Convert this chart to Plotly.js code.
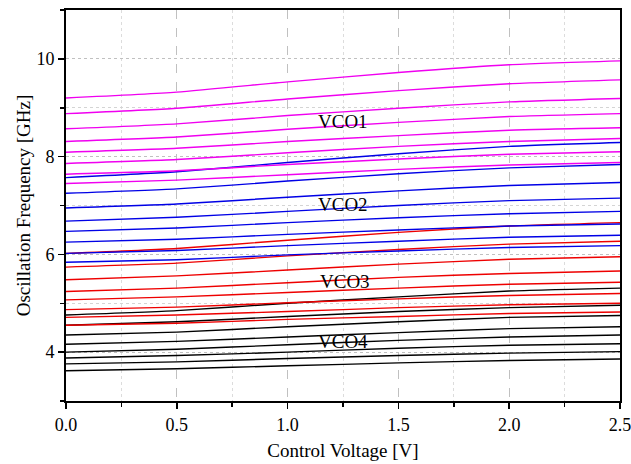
<!DOCTYPE html>
<html>
<head>
<meta charset="utf-8">
<script src="https://cdn.plot.ly/plotly-3.0.1.min.js"></script>
<style>html,body{margin:0;padding:0;background:#fff;}#chart{width:631px;height:464px;}</style>
</head>
<body>
<div id="chart"></div>
<script>
const controlVoltage = [0, 0.5, 1.0, 1.5, 2.0, 2.5];

const vco1 = [
  [9.20, 9.32, 9.53, 9.72, 9.88, 9.96],
  [8.88, 8.99, 9.18, 9.35, 9.49, 9.57],
  [8.57, 8.67, 8.84, 8.99, 9.12, 9.19],
  [8.31, 8.40, 8.56, 8.70, 8.82, 8.88],
  [8.09, 8.17, 8.31, 8.43, 8.54, 8.59],
  [7.86, 7.94, 8.08, 8.21, 8.31, 8.37],
  [7.64, 7.71, 7.84, 7.95, 8.05, 8.10],
  [7.45, 7.52, 7.63, 7.74, 7.83, 7.88]
];
const vco2 = [
  [7.57, 7.69, 7.88, 8.06, 8.21, 8.29],
  [7.25, 7.34, 7.50, 7.65, 7.77, 7.84],
  [6.95, 7.03, 7.17, 7.30, 7.41, 7.47],
  [6.68, 6.76, 6.88, 7.00, 7.10, 7.15],
  [6.47, 6.54, 6.65, 6.75, 6.83, 6.88],
  [6.25, 6.31, 6.41, 6.50, 6.58, 6.62],
  [6.02, 6.08, 6.18, 6.27, 6.35, 6.39],
  [5.84, 5.89, 5.99, 6.07, 6.14, 6.18]
];
const vco3 = [
  [6.02, 6.12, 6.29, 6.45, 6.58, 6.65],
  [5.74, 5.82, 5.97, 6.10, 6.21, 6.27],
  [5.48, 5.56, 5.68, 5.80, 5.90, 5.95],
  [5.24, 5.31, 5.42, 5.53, 5.61, 5.66],
  [5.07, 5.13, 5.22, 5.31, 5.39, 5.43],
  [4.87, 4.92, 5.01, 5.09, 5.16, 5.20],
  [4.71, 4.76, 4.83, 4.91, 4.97, 5.00],
  [4.55, 4.59, 4.67, 4.73, 4.79, 4.82]
];
const vco4 = [
  [4.76, 4.85, 5.00, 5.13, 5.25, 5.31],
  [4.55, 4.62, 4.73, 4.83, 4.91, 4.96],
  [4.35, 4.41, 4.52, 4.62, 4.71, 4.75],
  [4.16, 4.22, 4.31, 4.40, 4.48, 4.52],
  [4.00, 4.06, 4.15, 4.24, 4.31, 4.35],
  [3.88, 3.93, 4.00, 4.08, 4.14, 4.17],
  [3.76, 3.80, 3.87, 3.93, 3.98, 4.01],
  [3.62, 3.66, 3.72, 3.78, 3.83, 3.86]
];

const groupNames = ["VCO1", "VCO2", "VCO3", "VCO4"];
const groupColors = ["#f000f0", "#0000e6", "#ee0000", "#000000"];
const labelX = [1.25, 1.25, 1.26, 1.25];
const labelY = [8.72, 7.03, 5.44, 4.22];

const groups = [vco1, vco2, vco3, vco4];
const traces = [];
for (let g = groups.length - 1; g >= 0; g--) {
  groups[g].forEach(function (ys) {
    traces.push({
      x: controlVoltage, y: ys, type: "scatter", mode: "lines",
      line: {color: groupColors[g], width: 1.4, shape: "spline", smoothing: 0.6},
      hoverinfo: "skip", showlegend: false
    });
  });
}

const font = "'Liberation Serif', 'Times New Roman', serif";
const layout = {
  width: 631, height: 464,
  margin: {l: 66, r: 11, t: 10, b: 63},
  paper_bgcolor: "#fff", plot_bgcolor: "#fff",
  showlegend: false,
  font: {family: font, color: "#000", size: 18},
  xaxis: {
    range: [0, 2.5], dtick: 0.5, tick0: 0, tickformat: ".1f",
    showline: true, linecolor: "#000", linewidth: 2, mirror: true,
    ticks: "outside", ticklen: 6, tickwidth: 1.5, tickcolor: "#000",
    ticklabeloverflow: "allow",
    showgrid: true, gridcolor: "#c0c0c0", griddash: "dash", gridwidth: 1,
    zeroline: false,
    minor: {dtick: 0.25, ticks: "outside", ticklen: 4, tickcolor: "#000", showgrid: true, gridcolor: "#dcdcdc", griddash: "dot"},
    tickfont: {family: font, size: 18, color: "#000"},
    title: {text: "Control Voltage [V]", font: {family: font, size: 19, color: "#000"}, standoff: 10}
  },
  yaxis: {
    range: [3, 11], dtick: 2, tick0: 0,
    showline: true, linecolor: "#000", linewidth: 2, mirror: true,
    ticks: "outside", ticklen: 6, tickwidth: 1.5, tickcolor: "#000",
    showgrid: true, gridcolor: "#c0c0c0", griddash: "dot", gridwidth: 1,
    zeroline: false,
    minor: {dtick: 1, ticks: "outside", ticklen: 4, tickcolor: "#000", showgrid: true, gridcolor: "#d4d4d4", griddash: "dot"},
    tickfont: {family: font, size: 18, color: "#000"},
    title: {text: "Oscillation Frequency [GHz]", font: {family: font, size: 19, color: "#000"}, standoff: 1}
  },
  annotations: groupNames.map(function (n, i) {
    return {x: labelX[i], y: labelY[i], xref: "x", yref: "y", text: n, showarrow: false,
      font: {family: font, size: 19, color: "#000"}};
  })
};

Plotly.newPlot("chart", traces, layout, {displayModeBar: false, staticPlot: true});
</script>
</body>
</html>
